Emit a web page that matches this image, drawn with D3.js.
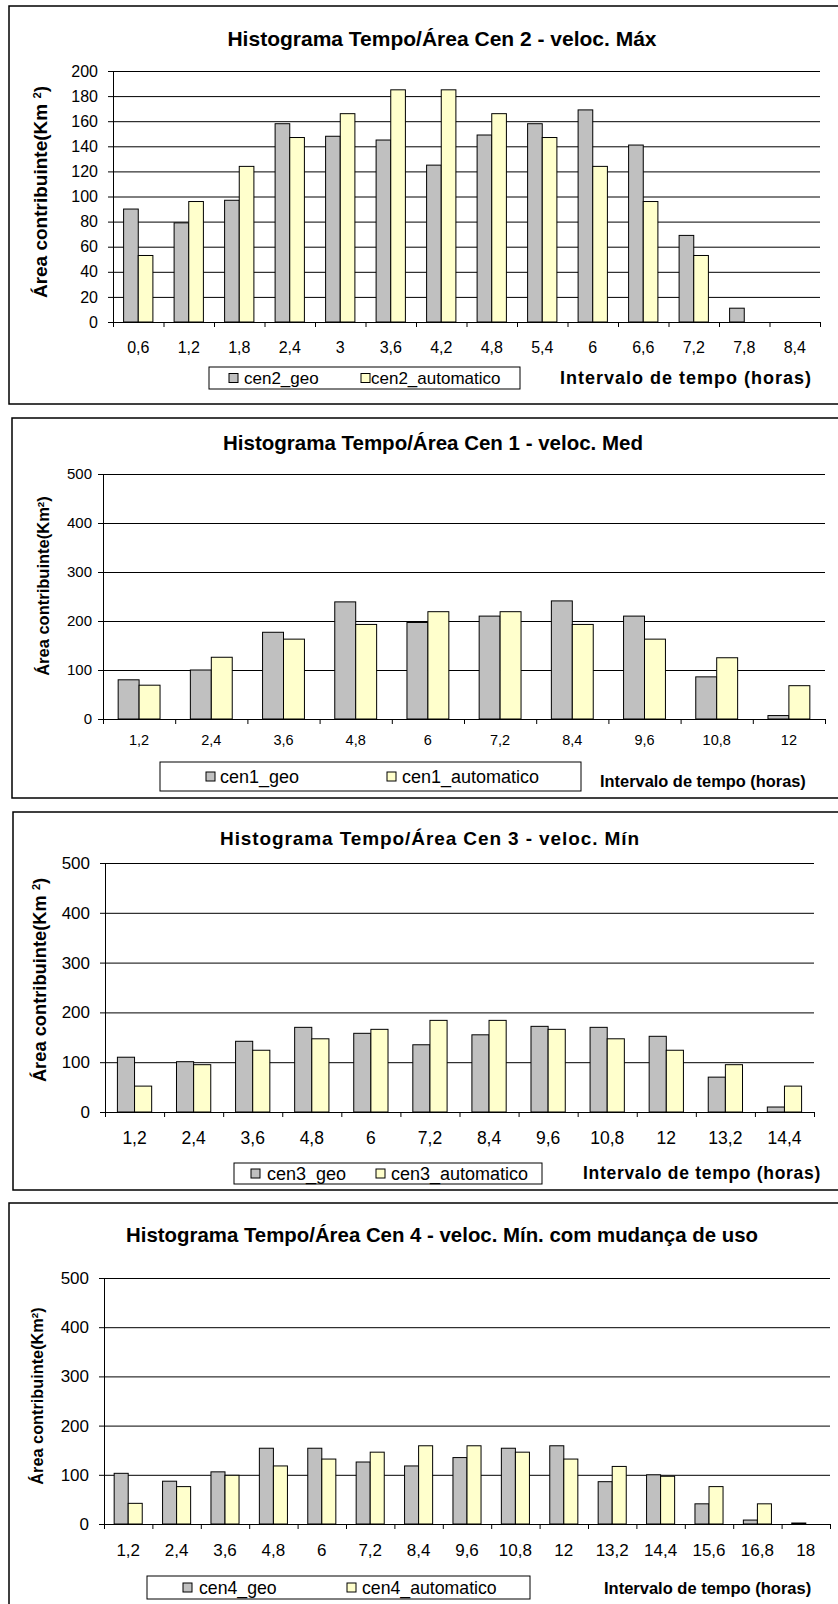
<!DOCTYPE html>
<html>
<head>
<meta charset="utf-8">
<script src="https://cdn.jsdelivr.net/npm/d3@7"></script>
<style>
  body { margin: 0; background: #fff; }
  svg { display: block; font-family: "Liberation Sans", Arial, sans-serif; }
</style>
</head>
<body>
<script>
// data
var cen2Cats = ["0,6", "1,2", "1,8", "2,4", "3", "3,6", "4,2", "4,8", "5,4", "6", "6,6", "7,2", "7,8", "8,4"];
var cen2Geo = [90, 79, 97, 158, 148, 145, 125, 149, 158, 169, 141, 69, 11, 0];
var cen2Auto = [53, 96, 124, 147, 166, 185, 185, 166, 147, 124, 96, 53, 0, 0];
var cen2Ticks = [0, 20, 40, 60, 80, 100, 120, 140, 160, 180, 200];

var cen1Cats = ["1,2", "2,4", "3,6", "4,8", "6", "7,2", "8,4", "9,6", "10,8", "12"];
var cen1Geo = [80, 100, 177, 239, 197, 210, 241, 210, 86, 7];
var cen1Auto = [69, 126, 163, 193, 219, 219, 193, 163, 125, 68];
var cen1Ticks = [0, 100, 200, 300, 400, 500];

var cen3Cats = ["1,2", "2,4", "3,6", "4,8", "6", "7,2", "8,4", "9,6", "10,8", "12", "13,2", "14,4"];
var cen3Geo = [110, 101, 142, 170, 158, 135, 155, 172, 170, 152, 70, 10];
var cen3Auto = [52, 95, 124, 147, 166, 184, 184, 166, 147, 124, 95, 52];
var cen3Ticks = [0, 100, 200, 300, 400, 500];

var cen4Cats = ["1,2", "2,4", "3,6", "4,8", "6", "7,2", "8,4", "9,6", "10,8", "12", "13,2", "14,4", "15,6", "16,8", "18"];
var cen4Geo = [103, 87, 106, 154, 154, 126, 118, 135, 154, 159, 86, 100, 41, 8, 2];
var cen4Auto = [42, 76, 99, 118, 132, 146, 159, 159, 146, 132, 117, 97, 76, 41, 0];
var cen4Ticks = [0, 100, 200, 300, 400, 500];

var svg = d3.select("body").append("svg")
  .attr("width", 838)
  .attr("height", 1604);

var FONT = "'Liberation Sans', Arial, sans-serif";

function drawPanel(p) {
  var g = svg.append("g");

  // frame (right edge runs off the page)
  g.append("rect")
    .attr("x", p.box[0]).attr("y", p.box[1])
    .attr("width", 845 - p.box[0]).attr("height", p.box[2] - p.box[1])
    .attr("fill", "#fff").attr("stroke", "#000").attr("stroke-width", 1.5);

  g.append("text")
    .attr("x", p.titleX).attr("y", p.titleY).attr("dy", "0.35em")
    .attr("text-anchor", "middle")
    .style("font-size", p.titleSize + "px").style("font-weight", "bold")
    .style("letter-spacing", (p.titleSpacing || 0) + "px")
    .text(p.title);

  var x = d3.scaleBand().domain(p.cats).range([p.left, p.right]);
  var xi = d3.scaleLinear().domain([0, p.cats.length]).range([p.left, p.right]);
  var y = d3.scaleLinear().domain([0, p.ticks[p.ticks.length - 1]]).range([p.bottom, p.top]);

  // gridlines
  g.append("g")
    .attr("transform", "translate(" + p.left + ",0)")
    .call(d3.axisLeft(y).tickValues(p.ticks.slice(1)).tickSize(-(p.right - p.left)).tickFormat(""))
    .call(function(s) { s.select(".domain").remove(); })
    .selectAll("line").attr("stroke", "#000");

  var bw = x.bandwidth() * 0.29;
  var series = [[p.geo, "#c0c0c0", -1], [p.auto, "#ffffcc", 0]];
  series.forEach(function(s) {
    g.selectAll(null)
      .data(p.cats.map(function(c, i) { return {c: c, v: s[0][i]}; }).filter(function(d) { return d.v > 0; }))
      .enter().append("rect")
      .attr("x", function(d) { return x(d.c) + x.bandwidth() / 2 + s[2] * bw; })
      .attr("y", function(d) { return y(d.v); })
      .attr("width", bw)
      .attr("height", function(d) { return p.bottom - y(d.v); })
      .attr("fill", s[1]).attr("stroke", "#000").attr("stroke-width", 1);
  });

  // y axis
  var ya = g.append("g")
    .attr("transform", "translate(" + p.left + ",0)")
    .call(d3.axisLeft(y).tickValues(p.ticks).tickSize(5).tickSizeOuter(0).tickPadding(p.yPad));
  ya.attr("font-family", null).attr("font-size", null);
  ya.selectAll("text").style("font-size", p.tickSize + "px").style("font-family", FONT).attr("fill", "#000");
  ya.selectAll("line, path").attr("stroke", "#000");

  // x axis ticks at band edges
  var xa = g.append("g")
    .attr("transform", "translate(0," + p.bottom + ")")
    .call(d3.axisBottom(xi).tickValues(d3.range(p.cats.length + 1)).tickSize(5).tickSizeOuter(0).tickFormat(""));
  xa.selectAll("line, path").attr("stroke", "#000");

  g.selectAll(null).data(p.cats).enter().append("text")
    .attr("x", function(d) { return x(d) + x.bandwidth() / 2; })
    .attr("y", p.labelY).attr("dy", "0.35em")
    .attr("text-anchor", "middle")
    .style("font-size", p.xTickSize + "px")
    .text(function(d) { return d; });

  // y title
  var yt = g.append("text")
    .attr("transform", "translate(" + p.yTitleX + "," + p.yTitleY + ") rotate(-90)")
    .attr("dy", "0.35em")
    .attr("text-anchor", "middle")
    .style("font-size", p.yTitleSize + "px").style("font-weight", "bold");
  yt.append("tspan").text("Área contribuinte(Km" + (p.supSpace ? " " : ""));
  yt.append("tspan").attr("baseline-shift", "super").style("font-size", "0.6em").text("2");
  yt.append("tspan").text(")");

  // legend
  var lg = p.legend;
  g.append("rect")
    .attr("x", lg.x0).attr("y", lg.y0)
    .attr("width", lg.x1 - lg.x0).attr("height", lg.y1 - lg.y0)
    .attr("fill", "#fff").attr("stroke", "#000").attr("stroke-width", 1);
  var cy = (lg.y0 + lg.y1) / 2;
  [[lg.sw[0], lg.tx[0], "#c0c0c0", p.names[0]], [lg.sw[1], lg.tx[1], "#ffffcc", p.names[1]]].forEach(function(it) {
    g.append("rect")
      .attr("x", it[0]).attr("y", cy - 4.5).attr("width", 9).attr("height", 9)
      .attr("fill", it[2]).attr("stroke", "#000").attr("stroke-width", 1);
    g.append("text")
      .attr("x", it[1]).attr("y", cy).attr("dy", "0.35em")
      .style("font-size", lg.size + "px")
      .text(it[3]);
  });

  g.append("text")
    .attr("x", p.xTitleX).attr("y", p.xTitleY).attr("dy", "0.35em")
    .style("font-size", p.xTitleSize + "px").style("font-weight", "bold")
    .style("letter-spacing", (p.xTitleSpacing || 0) + "px")
    .text("Intervalo de tempo (horas)");
}

drawPanel({
  box: [9, 6, 404],
  title: "Histograma Tempo/Área Cen 2 - veloc. Máx", titleX: 442, titleY: 39, titleSize: 21,
  cats: cen2Cats, geo: cen2Geo, auto: cen2Auto, ticks: cen2Ticks,
  names: ["cen2_geo", "cen2_automatico"],
  left: 113, right: 820, top: 71, bottom: 322,
  tickSize: 16, yPad: 10, xTickSize: 16, labelY: 347,
  yTitleX: 40, yTitleY: 192, yTitleSize: 19, supSpace: true,
  legend: {x0: 209, x1: 520, y0: 367, y1: 389, sw: [229, 361], tx: [244, 371], size: 17},
  xTitleX: 560, xTitleY: 378, xTitleSize: 18, xTitleSpacing: 1
});

drawPanel({
  box: [12, 418, 798],
  title: "Histograma Tempo/Área Cen 1 - veloc. Med", titleX: 433, titleY: 443, titleSize: 20.5,
  cats: cen1Cats, geo: cen1Geo, auto: cen1Auto, ticks: cen1Ticks,
  names: ["cen1_geo", "cen1_automatico"],
  left: 103, right: 825, top: 474, bottom: 719,
  tickSize: 15, yPad: 6, xTickSize: 14.5, labelY: 740,
  yTitleX: 43, yTitleY: 586, yTitleSize: 16.5, supSpace: false,
  legend: {x0: 160, x1: 581, y0: 762, y1: 791, sw: [206, 387], tx: [220, 402], size: 18},
  xTitleX: 600, xTitleY: 781, xTitleSize: 16.4
});

drawPanel({
  box: [13, 812, 1190],
  title: "Histograma Tempo/Área Cen 3 - veloc. Mín", titleX: 430, titleY: 838, titleSize: 19, titleSpacing: 0.9,
  cats: cen3Cats, geo: cen3Geo, auto: cen3Auto, ticks: cen3Ticks,
  names: ["cen3_geo", "cen3_automatico"],
  left: 105, right: 814, top: 863, bottom: 1112,
  tickSize: 17, yPad: 10, xTickSize: 17.5, labelY: 1138,
  yTitleX: 40, yTitleY: 980, yTitleSize: 18.3, supSpace: true,
  legend: {x0: 234, x1: 542, y0: 1163, y1: 1184, sw: [251, 376], tx: [267, 391], size: 18},
  xTitleX: 583, xTitleY: 1173, xTitleSize: 17.5, xTitleSpacing: 0.7
});

drawPanel({
  box: [9, 1203, 1612],
  title: "Histograma Tempo/Área Cen 4 - veloc. Mín. com mudança de uso", titleX: 442, titleY: 1235, titleSize: 20.4,
  cats: cen4Cats, geo: cen4Geo, auto: cen4Auto, ticks: cen4Ticks,
  names: ["cen4_geo", "cen4_automatico"],
  left: 104, right: 830, top: 1278, bottom: 1524,
  tickSize: 17, yPad: 10, xTickSize: 17, labelY: 1550,
  yTitleX: 37, yTitleY: 1396, yTitleSize: 16.3, supSpace: false,
  legend: {x0: 147, x1: 530, y0: 1576, y1: 1599, sw: [183, 347], tx: [199, 362], size: 17.7},
  xTitleX: 604, xTitleY: 1588, xTitleSize: 16.5
});
</script>
</body>
</html>
